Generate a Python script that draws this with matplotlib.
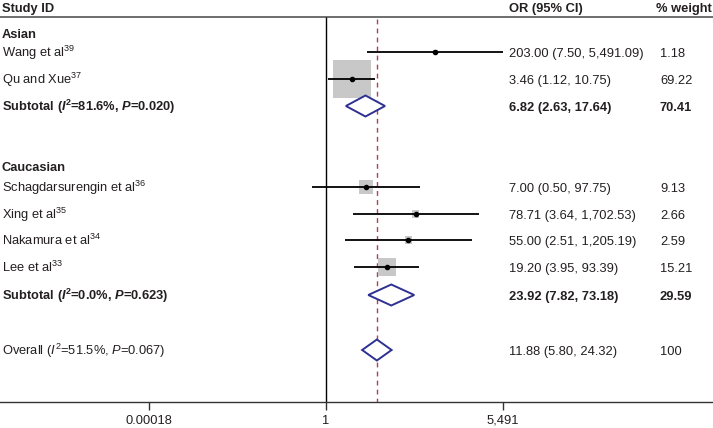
import numpy as np
import matplotlib
matplotlib.use("Agg")
import matplotlib.pyplot as plt

plt.rcParams["font.family"] = ["Liberation Sans", "DejaVu Sans"]
plt.rcParams["mathtext.fontset"] = "custom"
plt.rcParams["mathtext.rm"] = "Liberation Sans"
plt.rcParams["mathtext.it"] = "Liberation Sans:italic"
plt.rcParams["mathtext.bf"] = "Liberation Sans:bold"
plt.rcParams["mathtext.bfit"] = "Liberation Sans:italic:bold"

# ---- data ----
studies = ["Wang et al", "Qu and Xue", "Schagdarsurengin et al",
           "Xing et al", "Nakamura et al", "Lee et al"]
refs = ["39", "37", "36", "35", "34", "33"]
or_est = [203.00, 3.46, 7.00, 78.71, 55.00, 19.20]
ci_lo = [7.50, 1.12, 0.50, 3.64, 2.51, 3.95]
ci_hi = [5491.09, 10.75, 97.75, 1702.53, 1205.19, 93.39]
weights = [1.18, 69.22, 9.13, 2.66, 2.59, 15.21]

groups = ["Asian", "Caucasian"]
sub_est = [6.82, 23.92]
sub_lo = [2.63, 7.82]
sub_hi = [17.64, 73.18]
sub_w = [70.41, 29.59]
sub_i2 = ["81.6", "0.0"]
sub_p = ["0.020", "0.623"]

overall = (11.88, 5.80, 24.32)
overall_i2 = "51.5"
overall_p = "0.067"

tick_vals = [1 / 5491, 1, 5491]
tick_labels = ["0.00018", "1", "5,491"]

# ---- layout (pixel rows, figure is 713 x 428) ----
W, H = 713, 428
px_one = 326          # x pixel of OR = 1
px_dec = 47.33        # pixels per decade
y_header, y_hline, y_axis = 7, 17, 402
y_group = [33, 166]
y_study = [52, 79, 187, 214, 240, 267]
y_sub = [106, 295]
y_overall = 350
x_or, x_w, x_wh = 509, 660, 656
txt = "#231f20"
fs = 9.3
bl = 4.8              # baseline offset from row centre (px)
box_scale = 10.8      # scatter size per % weight
dh = 10.5             # diamond half-height (px)
navy = "#2e3192"

fig = plt.figure(figsize=(W / 100, H / 100), dpi=100)
ax = fig.add_axes([0, 0, 1, 1])
ax.set_xscale("log")
ax.set_xlim(10 ** (-px_one / px_dec), 10 ** ((W - px_one) / px_dec))
ax.set_ylim(H, 0)
for s in ["top", "left", "right"]:
    ax.spines[s].set_visible(False)
ax.spines["bottom"].set_position(("data", y_axis))
ax.spines["bottom"].set_color("#333333")
ax.spines["bottom"].set_linewidth(1.0)
ax.set_yticks([])
ax.set_xticks(tick_vals)
ax.set_xticklabels(tick_labels)
ax.xaxis.set_minor_locator(matplotlib.ticker.NullLocator())
ax.tick_params(axis="x", direction="out", length=6, width=1, color="#333333",
               labelsize=fs, labelcolor=txt, pad=3)

tr = ax.get_yaxis_transform()


def put(x, y, s, **kw):
    ax.text(x / W, y + bl, s, transform=tr, fontsize=fs, color=txt,
            va="baseline", **kw)


# header
ax.axhline(y_hline, color="#555555", lw=1.2)
put(2, y_header, "Study ID", fontweight="bold")
put(x_or, y_header, "OR (95% CI)", fontweight="bold")
put(x_wh, y_header, "% weight", fontweight="bold")

# reference lines
ax.vlines(1, y_hline, y_axis, color="black", lw=1.0)
ax.vlines(overall[0], y_hline + 2, y_axis, color="#b0424e", lw=1.0,
          linestyles=(0, (3.5, 3)))

# studies
ax.scatter(or_est, y_study, s=np.array(weights) * box_scale, marker="s",
           color="#c8c8c8", linewidths=0, zorder=2)
ax.hlines(y_study, ci_lo, ci_hi, color="black", lw=1.3, zorder=3)
ax.plot(or_est, y_study, "o", color="black", ms=3.0, zorder=4)
for i, name in enumerate(studies):
    y = y_study[i]
    put(2, y, name + r"$^{\mathrm{" + refs[i] + "}}$")
    put(x_or, y, f"{or_est[i]:,.2f} ({ci_lo[i]:,.2f}, {ci_hi[i]:,.2f})")
    put(x_w, y, f"{weights[i]:.2f}")


def diamond(est, lo, hi, y):
    ax.fill([lo, est, hi, est, lo], [y, y - dh, y, y + dh, y],
            facecolor="white", edgecolor=navy, lw=1.4, zorder=5)


for g, name in enumerate(groups):
    put(2, y_group[g], name, fontweight="bold")
    y = y_sub[g]
    diamond(sub_est[g], sub_lo[g], sub_hi[g], y)
    label = (r"Subtotal ($\mathbfit{I}^{\mathbf{2}}$=" + sub_i2[g] +
             r"%, $\mathbfit{P}$=" + sub_p[g] + ")")
    put(2, y, label, fontweight="bold")
    put(x_or, y, f"{sub_est[g]:.2f} ({sub_lo[g]:.2f}, {sub_hi[g]:.2f})",
        fontweight="bold")
    put(x_w, y, f"{sub_w[g]:.2f}", fontweight="bold")

diamond(*overall, y_overall)
put(2, y_overall, r"Overall ($\mathit{I}^{\mathrm{2}}$=" + overall_i2 +
    r"%, $\mathit{P}$=" + overall_p + ")")
put(x_or, y_overall, f"{overall[0]:.2f} ({overall[1]:.2f}, {overall[2]:.2f})")
put(x_w, y_overall, "100")

fig.savefig("out.png", dpi=100)
